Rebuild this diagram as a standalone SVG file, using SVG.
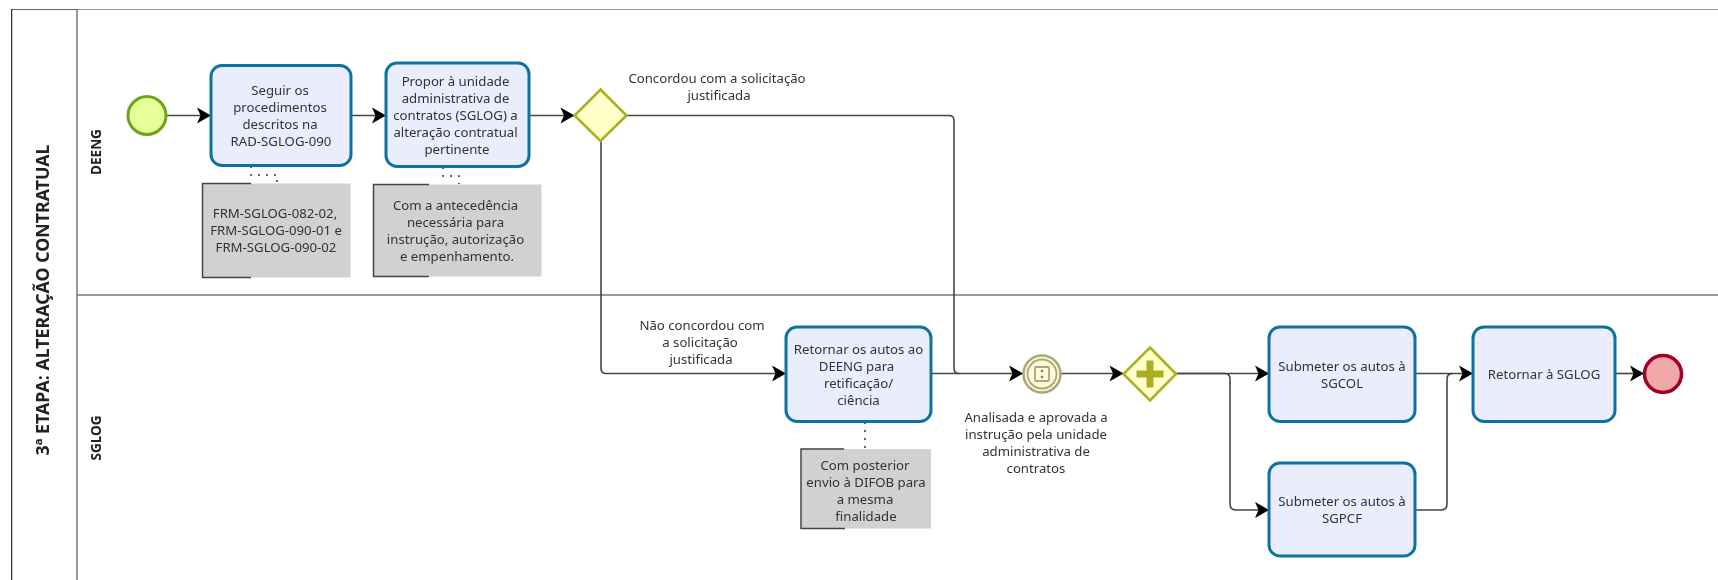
<svg xmlns="http://www.w3.org/2000/svg" width="1718" height="580" viewBox="0 0 1718 580">
<style>
text{font-family:"Noto Sans","Open Sans","Liberation Sans",sans-serif;font-size:13.2px;fill:#333;text-anchor:middle}
.b{font-weight:700;fill:#222}
.task{fill:#e9edfc;stroke:#10739e;stroke-width:3}
.note{fill:#d1d1d1}
.brk{fill:none;stroke:#444;stroke-width:1.5}
.flow{fill:none;stroke:#444;stroke-width:1.6}
.assoc{fill:none;stroke:#333;stroke-width:1.5;stroke-dasharray:2 6}
.pool{fill:none;stroke:#777;stroke-width:1.5}
.gw{fill:#ffffc8;stroke:#aeae24;stroke-width:2.6}
</style>
<defs>
<marker id="arr" markerUnits="userSpaceOnUse" markerWidth="18" markerHeight="20" refX="15" refY="10" orient="auto" overflow="visible">
<path d="M1,2 L15,10 L1,18 L4.500,10 Z" fill="#000"/>
</marker>
<filter id="soft" x="0" y="0" width="100%" height="100%"><feGaussianBlur stdDeviation="0.4"/></filter>
</defs>
<rect width="1718" height="580" fill="#fff"/>
<g filter="url(#soft)">
<g id="pool">
<path class="pool" d="M1718,9 H77 V580 M77,295 H1718"/>
<path d="M77,9 H11.5 V580" fill="none" stroke="#333" stroke-width="1.5"/>
<text class="b" transform="translate(49,300) rotate(-90)" style="font-size:17.8px">3ª ETAPA: ALTERAÇÃO CONTRATUAL</text>
<text class="b" transform="translate(101,152) rotate(-90)" style="font-size:13.5px">DEENG</text>
<text class="b" transform="translate(101,438) rotate(-90)" style="font-size:13.5px">SGLOG</text>
</g>
<g id="connectors">
<path class="flow" marker-end="url(#arr)" d="M167,115.500 H211"/>
<path class="flow" marker-end="url(#arr)" d="M351,115.500 H386"/>
<path class="flow" marker-end="url(#arr)" d="M529,115.500 H574.500"/>
<path class="flow" d="M626.500,115.500 H949 Q954,115.500 954,120.500 V368 Q954,373.500 959,373.500"/>
<path class="flow" marker-end="url(#arr)" d="M601,141 V368 Q601,373.500 606,373.500 H786"/>
<path class="flow" marker-end="url(#arr)" d="M931,373.500 H1023"/>
<path class="flow" marker-end="url(#arr)" d="M1061,373.500 H1123.500"/>
<path class="flow" marker-end="url(#arr)" d="M1176,373.500 H1269"/>
<path class="flow" marker-end="url(#arr)" d="M1176,373.500 H1225 Q1230,373.500 1230,379 V504 Q1230,510 1236,510 H1269"/>
<path class="flow" d="M1415,510 H1441 Q1447,510 1447,504 V379 Q1447,373.500 1453,373.500"/>
<path class="flow" marker-end="url(#arr)" d="M1415,373.500 H1473"/>
<path class="flow" marker-end="url(#arr)" d="M1615,373.500 H1644"/>
<path class="assoc" d="M251,166 V175 H277 V183"/>
<path class="assoc" d="M443,167 V176 H459 V184"/>
<path class="assoc" d="M865,422 V449"/>
</g>
<g id="start"><circle cx="147" cy="115.500" r="19" fill="#e6ff97" stroke="#6aa51e" stroke-width="3"/></g>
<g id="task1"><rect class="task" x="211" y="65.500" width="140" height="100" rx="11"/>
<text x="280" y="95">Seguir os</text><text x="280" y="112">procedimentos</text><text x="280" y="129">descritos na</text><text x="281" y="146">RAD-SGLOG-090</text></g>
<g id="note1"><rect class="note" x="202.500" y="183.500" width="148" height="94"/><path class="brk" d="M251,183.500 H202.500 V277.500 H251"/>
<text x="275" y="218">FRM-SGLOG-082-02,</text><text x="276" y="235">FRM-SGLOG-090-01 e</text><text x="276" y="252">FRM-SGLOG-090-02</text></g>
<g id="task2"><rect class="task" x="386" y="63" width="143" height="103.500" rx="11"/>
<text x="455.500" y="86">Propor à unidade</text><text x="455.500" y="103">administrativa de</text><text x="455.500" y="120">contratos (SGLOG) a</text><text x="455.500" y="137">alteração contratual</text><text x="457" y="154">pertinente</text></g>
<g id="note2"><rect class="note" x="373.500" y="184.500" width="168" height="92"/><path class="brk" d="M429,184.500 H373.500 V276.500 H429"/>
<text x="455.500" y="210">Com a antecedência</text><text x="455.500" y="227">necessária para</text><text x="455.500" y="244">instrução, autorização</text><text x="457" y="261">e empenhamento.</text></g>
<g id="gateway1"><path class="gw" d="M600.500,89.500 L626.500,115.500 L600.500,141 L574.500,115.500 Z"/>
<text x="717" y="83">Concordou com a solicitação</text><text x="719" y="100">justificada</text></g>
<text x="702" y="330">Não concordou com</text><text x="700" y="347">a solicitação</text><text x="701" y="364">justificada</text>
<g id="task3"><rect class="task" x="786" y="327" width="145" height="94.500" rx="11"/>
<text x="858.500" y="354">Retornar os autos ao</text><text x="856.500" y="371">DEENG para</text><text x="858.500" y="388">retificação/</text><text x="858.500" y="405">ciência</text></g>
<g id="note3"><rect class="note" x="801" y="449" width="130" height="79.500"/><path class="brk" d="M844,449 H801 V528.500 H845"/>
<text x="865" y="470">Com posterior</text><text x="866" y="487">envio à DIFOB para</text><text x="865" y="504">a mesma</text><text x="866" y="521">finalidade</text></g>
<g id="event"><circle cx="1042" cy="374" r="18.500" fill="#fff8dc" stroke="#a8a878" stroke-width="2.500"/><circle cx="1042" cy="374" r="14.500" fill="#fff8dc" stroke="#a8a878" stroke-width="1.800"/>
<rect x="1035" y="367" width="14" height="14" rx="1" fill="#fff8dc" stroke="#a8a878" stroke-width="1.800"/><circle cx="1042" cy="371" r="1.300" fill="#86864a"/><circle cx="1042" cy="377" r="1.300" fill="#86864a"/>
<text x="1036" y="422">Analisada e aprovada a</text><text x="1036" y="439">instrução pela unidade</text><text x="1036" y="456">administrativa de</text><text x="1036" y="473">contratos</text></g>
<g id="gateway2"><path class="gw" d="M1150,347.500 L1176,374 L1150,400.500 L1123.500,374 Z"/><path d="M1150,360.500 V387.500 M1136.500,374 H1163.500" stroke="#aeae24" stroke-width="7" fill="none"/></g>
<g id="task4"><rect class="task" x="1269" y="327" width="146" height="94.500" rx="11"/><text x="1342" y="371">Submeter os autos à</text><text x="1342" y="388">SGCOL</text></g>
<g id="task5"><rect class="task" x="1269" y="463" width="146" height="93" rx="11"/><text x="1342" y="506">Submeter os autos à</text><text x="1342" y="523">SGPCF</text></g>
<g id="task6"><rect class="task" x="1473" y="327" width="142" height="94.500" rx="11"/><text x="1544" y="379">Retornar à SGLOG</text></g>
<g id="end"><circle cx="1663" cy="374" r="18.500" fill="#f0a8a8" stroke="#a20025" stroke-width="3.500"/></g>
</g>
</svg>
